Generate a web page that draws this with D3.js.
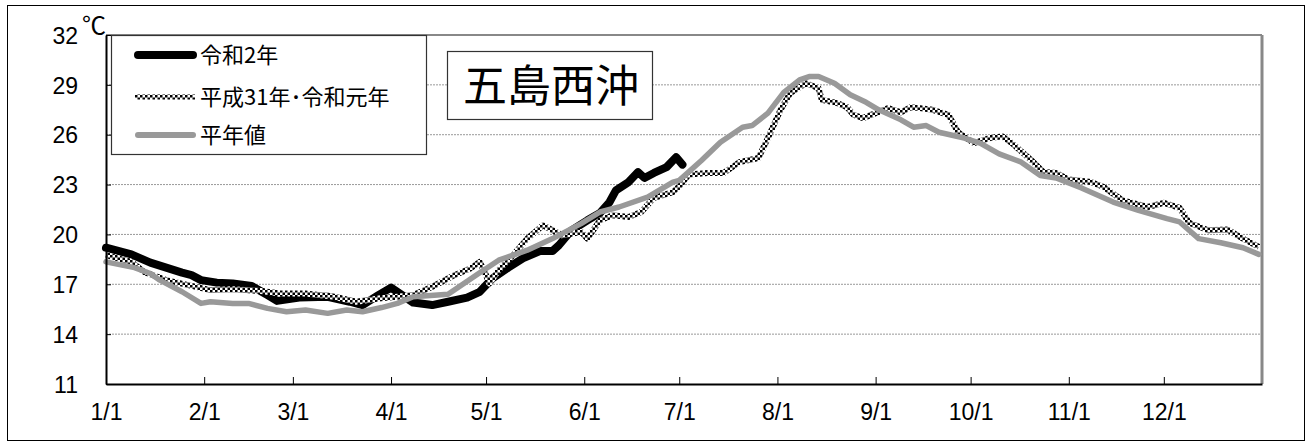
<!DOCTYPE html>
<html>
<head>
<meta charset="utf-8">
<script src="https://cdn.jsdelivr.net/npm/d3@7"></script>
<style>
  body { margin: 0; background: #fff; }
  #chart { width: 1306px; height: 443px; }
  .tick text { font-family: "Liberation Sans Narrow", "Liberation Sans", Arial, sans-serif; font-size: 23px; fill: #000; }
</style>
</head>
<body>
<div id="chart"></div>
<script>
// 令和2年 (day of year, temp)
let r2Days  = [0, 8, 14, 19, 24, 27, 30, 35, 40, 46, 51, 54, 61, 70, 77, 81, 86, 90, 97, 103, 108, 114, 118, 122, 127, 132, 137, 141, 143, 147, 152, 156, 159, 161, 165, 168, 170, 173, 177, 180, 182]
let r2Temps = [19.2, 18.8, 18.3, 18.0, 17.7, 17.55, 17.25, 17.1, 17.05, 16.9, 16.35, 16.0, 16.2, 16.25, 15.95, 15.75, 16.35, 16.8, 15.9, 15.75, 15.95, 16.2, 16.55, 17.35, 18.0, 18.6, 19.0, 19.0, 19.35, 20.25, 20.85, 21.3, 21.95, 22.65, 23.15, 23.75, 23.4, 23.7, 24.05, 24.65, 24.2]

// 平成31年・令和元年
let h31Days  = [0, 8, 12, 19, 26, 33, 40, 49, 55, 63, 72, 79, 86, 92, 97, 103, 110, 115, 118, 120, 121, 124, 129, 133, 138, 141, 144, 150, 152, 156, 160, 165, 169, 173, 179, 181, 184, 190, 195, 200, 206, 209, 213, 216, 221, 225, 226, 231, 234, 236, 239, 243, 247, 251, 254, 257, 261, 266, 269, 274, 279, 283, 286, 292, 296, 300, 304, 311, 315, 321, 329, 334, 339, 342, 348, 354, 359, 364]
let h31Temps = [18.75, 18.35, 17.75, 17.25, 16.95, 16.65, 16.7, 16.6, 16.45, 16.45, 16.25, 15.95, 16.15, 16.25, 16.35, 16.85, 17.55, 17.95, 18.35, 17.55, 17.05, 17.85, 18.85, 19.75, 20.55, 20.25, 19.95, 20.15, 19.75, 20.85, 21.15, 21.05, 21.35, 22.2, 22.55, 22.9, 23.6, 23.7, 23.7, 24.35, 24.6, 25.8, 27.5, 28.5, 29.1, 28.8, 28.1, 27.9, 27.65, 27.2, 27.0, 27.3, 27.6, 27.35, 27.65, 27.6, 27.5, 27.2, 26.15, 25.5, 25.8, 25.9, 25.5, 24.5, 23.75, 23.7, 23.3, 23.15, 22.85, 22.05, 21.65, 21.9, 21.6, 20.7, 20.25, 20.3, 19.75, 19.25]

// 平年値
let normDays  = [0, 9, 14, 17, 24, 30, 33, 40, 45, 51, 57, 63, 70, 76, 81, 87, 92, 97, 108, 118, 124, 133, 141, 150, 156, 162, 171, 179, 181, 188, 194, 201, 204, 209, 214, 219, 222, 225, 230, 235, 240, 244, 251, 255, 259, 263, 271, 276, 282, 289, 295, 300, 308, 318, 326, 335, 339, 345, 352, 359, 364]
let normTemps = [18.35, 18.0, 17.65, 17.25, 16.55, 15.85, 15.95, 15.85, 15.85, 15.55, 15.35, 15.45, 15.25, 15.45, 15.35, 15.6, 15.85, 16.25, 16.4, 17.7, 18.45, 19.05, 19.75, 20.65, 21.35, 21.65, 22.25, 23.15, 23.25, 24.45, 25.55, 26.45, 26.55, 27.3, 28.55, 29.3, 29.5, 29.5, 29.1, 28.4, 27.95, 27.5, 26.9, 26.45, 26.55, 26.15, 25.8, 25.5, 24.85, 24.35, 23.55, 23.4, 22.8, 21.95, 21.45, 20.95, 20.75, 19.75, 19.5, 19.2, 18.8]

let monthStarts = [0, 31, 59, 90, 120, 151, 181, 212, 243, 273, 304, 334]
let monthLabels = ["1/1", "2/1", "3/1", "4/1", "5/1", "6/1", "7/1", "8/1", "9/1", "10/1", "11/1", "12/1"]
let yTicks = [11, 14, 17, 20, 23, 26, 29, 32]
let legendNames = ["令和2年", "平成31年･令和元年", "平年値"]
let title = "五島西沖"

let w = 1306, h = 443
let plot = { left: 106, right: 1262, top: 35, bottom: 384 }

let svg = d3.select("#chart").append("svg").attr("width", w).attr("height", h)

// checker pattern for the 平成31年 line
let defs = svg.append("defs")
let pat = defs.append("pattern").attr("id", "checker")
  .attr("width", 5).attr("height", 5).attr("patternUnits", "userSpaceOnUse")
pat.append("rect").attr("width", 5).attr("height", 5).attr("fill", "#fff")
pat.append("rect").attr("width", 2.5).attr("height", 2.5).attr("fill", "#000")
pat.append("rect").attr("x", 2.5).attr("y", 2.5).attr("width", 2.5).attr("height", 2.5).attr("fill", "#000")

// outer frame
svg.append("rect").attr("x", 7.5).attr("y", 5.5).attr("width", 1297).attr("height", 435)
  .attr("fill", "none").attr("stroke", "#000").attr("stroke-width", 1)

let x = d3.scaleLinear().domain([0, 365]).range([plot.left, plot.right])
let y = d3.scaleLinear().domain([11, 32]).range([plot.bottom, plot.top])

// grid
svg.append("g").selectAll("line")
  .data(yTicks.filter(d => d > 11 && d < 32))
  .enter().append("line")
  .attr("x1", plot.left).attr("x2", plot.right)
  .attr("y1", d => y(d)).attr("y2", d => y(d))
  .attr("stroke", "#999").attr("stroke-width", 1).attr("stroke-dasharray", "2,1")

// top & right border (gray)
svg.append("line").attr("x1", plot.left).attr("x2", plot.right).attr("y1", plot.top).attr("y2", plot.top)
  .attr("stroke", "#888").attr("stroke-width", 2)
svg.append("line").attr("x1", plot.right).attr("x2", plot.right).attr("y1", plot.top).attr("y2", plot.bottom)
  .attr("stroke", "#888").attr("stroke-width", 3)

// lines
let line = d3.line().x(d => x(d[0])).y(d => y(d[1]))
let zip = (a, b) => a.map((d, i) => [d, b[i]])

svg.append("path").datum(zip(r2Days, r2Temps)).attr("d", line)
  .attr("fill", "none").attr("stroke", "#000").attr("stroke-width", 8)
  .attr("stroke-linejoin", "round").attr("stroke-linecap", "round")
svg.append("path").datum(zip(h31Days, h31Temps)).attr("d", line)
  .attr("fill", "none").attr("stroke", "url(#checker)").attr("stroke-width", 6)
  .attr("stroke-linejoin", "round")
svg.append("path").datum(zip(normDays, normTemps)).attr("d", line)
  .attr("fill", "none").attr("stroke", "#999").attr("stroke-width", 5.5)
  .attr("stroke-linejoin", "round").attr("stroke-linecap", "round")

// axes
let xAxis = d3.axisBottom(x).tickValues(monthStarts).tickFormat((d, i) => monthLabels[i])
  .tickSizeInner(-7).tickSizeOuter(0).tickPadding(20)
let gx = svg.append("g").attr("transform", "translate(0," + plot.bottom + ")").call(xAxis)
gx.select(".domain").attr("stroke", "#000").attr("stroke-width", 2)
gx.selectAll(".tick line").attr("stroke", "#000").attr("stroke-width", 1)

let yAxis = d3.axisLeft(y).tickValues(yTicks).tickSizeInner(-5).tickSizeOuter(0).tickPadding(28)
let gy = svg.append("g").attr("transform", "translate(" + plot.left + ",0)").call(yAxis)
gy.select(".domain").attr("stroke", "#000").attr("stroke-width", 2)
gy.selectAll(".tick line").attr("stroke", "#000").attr("stroke-width", 1)
gy.selectAll(".tick text").attr("dy", "0.36em")

svg.append("text").attr("x", 82).attr("y", 34).text("℃")
  .attr("font-family", "Noto Sans CJK JP").attr("font-size", 24)

// legend
let legend = svg.append("g")
legend.append("rect").attr("x", 111.5).attr("y", 35.5).attr("width", 315).attr("height", 119)
  .attr("fill", "#fff").attr("stroke", "#333").attr("stroke-width", 1.2)
let legY = [55, 97, 135]
legend.append("line").attr("x1", 138).attr("x2", 193).attr("y1", legY[0]).attr("y2", legY[0])
  .attr("stroke", "#000").attr("stroke-width", 8).attr("stroke-linecap", "round")
legend.append("line").attr("x1", 135).attr("x2", 195).attr("y1", legY[1]).attr("y2", legY[1])
  .attr("stroke", "url(#checker)").attr("stroke-width", 5)
legend.append("line").attr("x1", 138).attr("x2", 193).attr("y1", legY[2]).attr("y2", legY[2])
  .attr("stroke", "#999").attr("stroke-width", 6).attr("stroke-linecap", "round")
legend.selectAll("text.leg").data(legendNames).enter().append("text")
  .attr("class", "leg")
  .attr("x", 200).attr("y", (d, i) => legY[i])
  .attr("dy", "0.36em")
  .attr("font-family", "Noto Sans CJK JP").attr("font-size", 22)
  .text(d => d)

// title box
svg.append("rect").attr("x", 447.5).attr("y", 51.5).attr("width", 205).attr("height", 68)
  .attr("fill", "#fff").attr("stroke", "#333").attr("stroke-width", 1.2)
svg.append("text").attr("x", 551).attr("y", 86).attr("dy", "0.36em")
  .attr("text-anchor", "middle")
  .attr("font-family", "Noto Sans CJK JP").attr("font-size", 44)
  .text(title)
</script>
</body>
</html>
